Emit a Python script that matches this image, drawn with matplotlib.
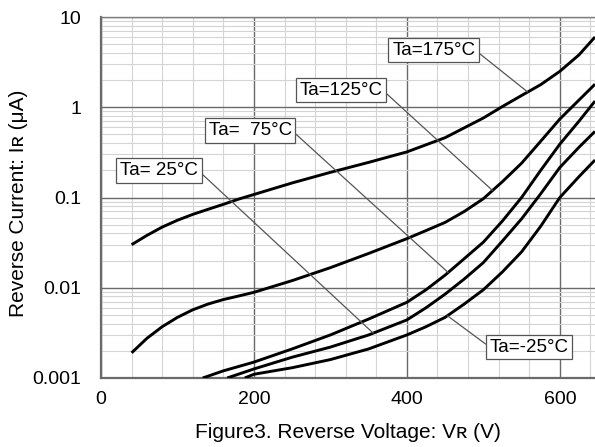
import numpy as np
import matplotlib
matplotlib.use("Agg")
import matplotlib.pyplot as plt
from matplotlib.ticker import LogLocator, NullFormatter

plt.rcParams['font.family'] = ['Liberation Sans', 'DejaVu Sans']

# reverse current (uA) vs reverse voltage (V)
v_175 = [40, 60, 80, 100, 120, 140, 160, 180, 200, 250, 300, 350, 400, 450, 500, 525, 550, 575, 600, 625, 646]
i_175 = [0.030, 0.038, 0.047, 0.056, 0.065, 0.074, 0.084, 0.096, 0.108, 0.145, 0.19, 0.245, 0.32, 0.46, 0.76, 1.02, 1.35, 1.78, 2.5, 3.8, 6.0]

v_125 = [40, 60, 80, 100, 120, 140, 160, 180, 200, 250, 300, 350, 400, 425, 450, 475, 500, 525, 550, 575, 600, 625, 646]
i_125 = [0.0019, 0.00275, 0.0037, 0.0047, 0.0057, 0.0066, 0.0074, 0.0081, 0.0089, 0.012, 0.0167, 0.024, 0.035, 0.043, 0.053, 0.07, 0.097, 0.15, 0.24, 0.42, 0.74, 1.2, 1.8]

v_75 = [133, 160, 200, 250, 300, 350, 400, 425, 450, 475, 500, 525, 550, 575, 600, 625, 646]
i_75 = [0.001, 0.0012, 0.0015, 0.0021, 0.003, 0.0045, 0.0069, 0.0095, 0.0138, 0.021, 0.032, 0.055, 0.1, 0.2, 0.39, 0.7, 1.17]

v_25 = [165, 200, 250, 300, 350, 400, 425, 450, 475, 500, 525, 550, 575, 600, 625, 646]
i_25 = [0.001, 0.00126, 0.0017, 0.0022, 0.003, 0.0044, 0.006, 0.0085, 0.0125, 0.019, 0.033, 0.058, 0.11, 0.215, 0.36, 0.54]

v_m25 = [188, 200, 250, 300, 350, 400, 425, 450, 475, 500, 525, 550, 575, 600, 625, 646]
i_m25 = [0.001, 0.0011, 0.0013, 0.0016, 0.0021, 0.003, 0.0037, 0.0047, 0.0066, 0.0095, 0.015, 0.025, 0.048, 0.1, 0.17, 0.26]

curves = [(v_175, i_175), (v_125, i_125), (v_75, i_75), (v_25, i_25), (v_m25, i_m25)]
labels = ["Ta=175°C", "Ta=125°C", "Ta=  75°C", "Ta= 25°C", "Ta=-25°C"]

# label box centre, voltage where the leader touches the curve, side of box the leader leaves
label_pos = [(435, 4.3), (314, 1.55), (195, 0.555), (76, 0.2), (560, 0.0022)]
leader_v = [558, 512, 454, 356, 453]
leader_side = [1, 1, 1, 1, 0]

fig = plt.figure(figsize=(5.95, 4.47), dpi=100)
ax = fig.add_axes([101/595, 69/447, 494/595, 361/447])
ax.set_yscale('log')
ax.set_xlim(0, 646)
ax.set_ylim(0.001, 10)

ax.set_xticks([0, 200, 400, 600])
ax.set_xticks(np.arange(0, 647, 40), minor=True)
ax.set_yticks([0.001, 0.01, 0.1, 1, 10])
ax.set_yticklabels(["0.001", "0.01", "0.1", "1", "10"])
ax.yaxis.set_minor_locator(LogLocator(base=10, subs=np.arange(2, 10)))
ax.yaxis.set_minor_formatter(NullFormatter())

ax.grid(which='minor', color='#d4d4d4', lw=0.8)
ax.grid(which='major', color='#6a6a6a', lw=1.0)
ax.set_axisbelow(True)
ax.tick_params(which='both', length=0, labelsize=14, colors='#000000')
ax.tick_params(axis='x', pad=9)
ax.tick_params(axis='y', pad=14)

for s in ['left', 'bottom']:
    ax.spines[s].set_color('#6a6a6a')
    ax.spines[s].set_linewidth(1.6)
ax.spines['top'].set_color('#808080')
ax.spines['top'].set_linewidth(1.0)
ax.spines['right'].set_visible(False)

for v, i in curves:
    ax.plot(v, i, color='black', lw=2.1, solid_capstyle='butt', zorder=3)

for (v, i), text, pos, lv, side in zip(curves, labels, label_pos, leader_v, leader_side):
    tip = 10 ** np.interp(lv, v, np.log10(i))
    ax.annotate(text, xy=(lv, tip), xytext=pos, ha='center', va='center', fontsize=13.5,
                bbox=dict(boxstyle='square,pad=0.2', fc='white', ec='#555555', lw=0.9),
                arrowprops=dict(arrowstyle='-', color='#555555', lw=0.9,
                                relpos=(side, 0.5), shrinkA=0, shrinkB=0),
                zorder=4)

fig.text(19/595, 0.545, "Reverse Current: Iʀ (μA)", rotation=90, ha='center', va='center', fontsize=15)
fig.text(348/595, 1 - 433/447, "Figure3. Reverse Voltage: Vʀ (V)", ha='center', va='center', fontsize=15)

fig.savefig("out.png", dpi=100)
